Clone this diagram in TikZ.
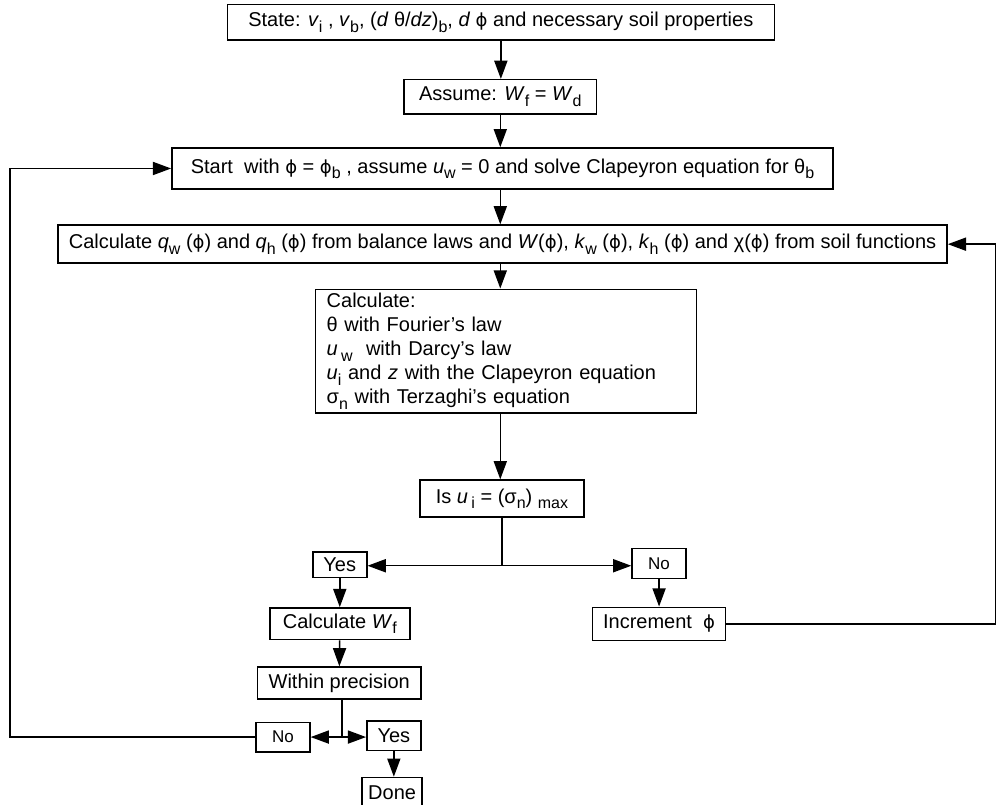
\documentclass[tikz,border=0pt]{standalone}
\usepackage{fontspec}
\setmainfont{Liberation Sans}
\newfontfamily\symfont{DejaVu Sans}
\usepackage{tikz}
\usetikzlibrary{arrows.meta, positioning}

\newcommand{\sbs}[1]{\raisebox{-0.5ex}{\footnotesize #1}}
\newcommand{\ph}{{\symfont\fontsize{9}{10}\selectfont ϕ}}

\begin{document}
\begin{tikzpicture}[
    font=\fontsize{10}{12}\selectfont,
    box/.style={draw, line width=0.75pt, align=center, inner xsep=3pt, inner ysep=2pt, minimum height=0.6cm},
    small/.style={box, font=\fontsize{8.5}{10}\selectfont, minimum width=0.95cm, minimum height=0.52cm},
    flow/.style={line width=0.75pt, -{Triangle[length=3.2mm, width=2.3mm]}},
    link/.style={line width=0.75pt}
]
\useasboundingbox (0,0) rectangle (17.50,-14.13);

\node[box, minimum width=9.61cm, minimum height=0.63cm] (state) at (8.80,-0.39) {State: \textit{v}\sbs{i}\ , \textit{v}\sbs{b}, (\textit{d} θ/\textit{dz})\sbs{b}, \textit{d} \ph\ and necessary soil properties};
\node[box, minimum width=3.38cm] (assume) at (8.79,-1.70) {Assume: \textit{W}\sbs{f}\ = \textit{W}\sbs{d}};
\node[box, minimum width=11.62cm, minimum height=0.72cm] (start) at (8.83,-2.96) {Start\ \ with \ph\ = \ph\sbs{b} , assume \textit{u}\sbs{w} = 0 and solve Clapeyron equation for θ\sbs{b}};
\node[box, minimum width=15.62cm, minimum height=0.67cm] (calcq) at (8.83,-4.29) {Calculate \textit{q}\sbs{w} (\ph) and \textit{q}\sbs{h} (\ph) from balance laws and \textit{W}(\ph), \textit{k}\sbs{w} (\ph), \textit{k}\sbs{h} (\ph) and χ(\ph) from soil functions};
\node[box, align=left, text width=6.3cm, minimum height=1.79cm, inner xsep=0.2cm] (laws) at (8.89,-6.17) {Calculate:\\
θ with Fourier’s law\\
\textit{u}\,\sbs{w}\ \ with Darcy’s law\\
\textit{u}\sbs{i}\ and \textit{z} with the Clapeyron equation\\
σ\sbs{n} with Terzaghi’s equation};
\node[box, minimum width=2.88cm, minimum height=0.65cm] (check) at (8.82,-8.76) {Is \textit{u}\,\sbs{i} = (σ\sbs{n}) \sbs{max}};

\node[box, minimum width=0.95cm, minimum height=0.45cm] (yes) at (5.97,-9.92) {Yes};
\node[small] (no) at (11.58,-9.90) {No};
\node[box, minimum width=2.46cm, minimum height=0.56cm] (calcw) at (5.97,-10.96) {Calculate \textit{W}\sbs{f}};
\node[box, minimum width=2.34cm, minimum height=0.58cm] (incr) at (11.58,-10.96) {Increment\ \ \ph};
\node[box, minimum width=2.88cm, minimum height=0.56cm] (within) at (5.96,-12.00) {Within precision};
\node[small] (noagain) at (4.97,-12.95) {No};
\node[box, minimum width=0.95cm, minimum height=0.52cm] (yesagain) at (6.92,-12.93) {Yes};
\node[box, minimum width=0.95cm, minimum height=0.52cm] (done) at (6.89,-13.92) {Done};

\coordinate (lft) at (0.18,0);
\coordinate (rgt) at (17.50,0);
\coordinate (split) at (8.82,-9.94);
\coordinate (splitb) at (6.01,-12.95);

\draw[flow] (state) -- (state |- assume.north);
\draw[flow] (assume) -- (assume |- start.north);
\draw[flow] (assume |- start.south) -- (assume |- calcq.north);
\draw[flow] (assume |- calcq.south) -- (assume |- laws.north);
\draw[flow] (assume |- laws.south) -- (assume |- check.north);

\draw[link] (check.south) -- (split);
\draw[flow] (split) -- (split -| yes.east);
\draw[flow] (split) -- (split -| no.west);
\draw[flow] (yes) -- (calcw);
\draw[flow] (no) -- (incr);
\draw[flow] (calcw) -- (within);

\draw[link] (within.south -| splitb) -- (splitb);
\draw[flow] (splitb) -- (noagain.east);
\draw[flow] (splitb) -- (splitb -| yesagain.west);
\draw[flow] (yesagain) -- (yesagain |- done.north);

\draw[flow] (noagain.west) -- (noagain.west -| lft) |- (start.west);
\draw[flow] (incr.east) -- (incr.east -| rgt) |- (calcq.east);
\end{tikzpicture}
\end{document}
